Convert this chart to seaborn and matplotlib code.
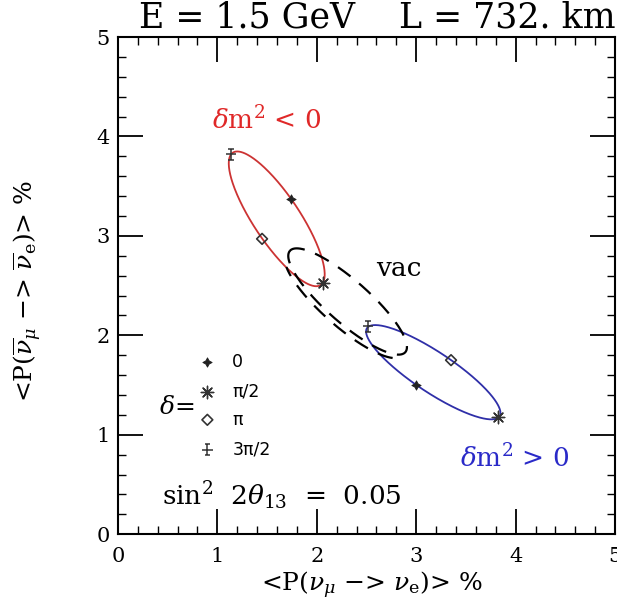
import numpy as np
import pandas as pd
import matplotlib
matplotlib.use("Agg")
import matplotlib.pyplot as plt
import seaborn as sns
from matplotlib.path import Path
from matplotlib.ticker import MultipleLocator

# ---- data ----
# points ordered delta = 0, pi/2, pi, 3pi/2
delta_labels = ["0", "π/2", "π", "3π/2"]
neg_x = [1.74, 2.06, 1.45, 1.14]      # dm^2 < 0  <P(nu_mu -> nu_e)> %
neg_y = [3.37, 2.525, 2.97, 3.82]     # dm^2 < 0  <P(nubar_mu -> nubar_e)> %
pos_x = [3.00, 3.82, 3.35, 2.515]     # dm^2 > 0
pos_y = [1.50, 1.175, 1.75, 2.09]
vac_x = [1.73, 2.45, 2.89, 2.17]      # vacuum curve (unmarked)
vac_y = [2.85, 2.50, 1.83, 2.18]
legend_x = 0.90
legend_y = [1.73, 1.43, 1.15, 0.85]
x_ticks = [0, 1, 2, 3, 4, 5]
y_ticks = [0, 1, 2, 3, 4, 5]

RED = "#cc3333"
BLUE = "#2f2fa8"
TXT_RED = "#e02828"
TXT_BLUE = "#2a2ac8"


def ellipse(xs, ys, t0=0.0, t1=2 * np.pi, n=400):
    """Curve P(delta) = c + a cos(delta) + b sin(delta) through the four delta points."""
    t = np.linspace(t0, t1, n)
    cx, cy = np.mean(xs), np.mean(ys)
    ax_, bx = (xs[0] - xs[2]) / 2, (xs[1] - xs[3]) / 2
    ay, by = (ys[0] - ys[2]) / 2, (ys[1] - ys[3]) / 2
    return pd.DataFrame({"x": cx + ax_ * np.cos(t) + bx * np.sin(t),
                         "y": cy + ay * np.cos(t) + by * np.sin(t),
                         "t": np.arange(n)})


sns.set_style("ticks")
plt.rcParams["font.family"] = ["DejaVu Serif"]
plt.rcParams["mathtext.fontset"] = "dejavuserif"
plt.rcParams["text.color"] = "black"
plt.rcParams["axes.labelcolor"] = "black"
plt.rcParams["xtick.color"] = "black"
plt.rcParams["ytick.color"] = "black"
plt.rcParams["axes.edgecolor"] = "black"

fig = plt.figure(figsize=(6.17, 6.07), dpi=100)
ax = fig.add_axes([0.191, 0.120, 0.806, 0.819])

# ellipses
sns.lineplot(data=ellipse(neg_x, neg_y), x="x", y="y", sort=False, estimator=None,
             color=RED, lw=1.3, ax=ax)
sns.lineplot(data=ellipse(pos_x, pos_y), x="x", y="y", sort=False, estimator=None,
             color=BLUE, lw=1.3, ax=ax)
vac = ellipse(vac_x, vac_y)
sns.lineplot(data=vac, x="x", y="y", sort=False, estimator=None,
             color="black", lw=1.6, ax=ax, linestyle=(0, (7, 5)))
vac2 = ellipse(vac_x, vac_y, 1.12 * np.pi, 1.85 * np.pi, 200)
vac2["x"] = vac2["x"] - 0.035
vac2["y"] = vac2["y"] - 0.035
sns.lineplot(data=vac2, x="x", y="y", sort=False, estimator=None,
             color="black", lw=1.6, ax=ax, linestyle=(0, (7, 5)))

# markers
cross_cap = Path([(0, -1), (0, 1), (-1, 0), (1, 0), (-0.55, 1), (0.55, 1), (-0.55, -1), (0.55, -1)],
                 [Path.MOVETO, Path.LINETO] * 4)
marker_specs = [
    dict(marker=(4, 1, 0), s=45, color="#222222", edgecolor="#222222", linewidth=0.6),
    dict(marker=(8, 2, 0), s=80, color="#333333", linewidth=1.0),
    dict(marker="D", s=30, color="#333333", facecolor="none", edgecolor="#333333", linewidth=1.2),
    dict(marker=cross_cap, s=55, color="#333333", facecolor="none", edgecolor="#333333", linewidth=1.1),
]
for i, spec in enumerate(marker_specs):
    pts = pd.DataFrame({"x": [neg_x[i], pos_x[i], legend_x],
                        "y": [neg_y[i], pos_y[i], legend_y[i]]})
    sns.scatterplot(data=pts, x="x", y="y", ax=ax, legend=False, zorder=5, **spec)
    ax.text(1.15, legend_y[i], delta_labels[i], family="DejaVu Sans", fontsize=12.5,
            ha="left", va="center")

ax.text(0.59, 1.27, r"$\delta$=", fontsize=18, ha="center", va="center")
ax.text(1.50, 4.17, r"$\delta$m$^2$ < 0", color=TXT_RED, fontsize=19, ha="center", va="center")
ax.text(3.99, 0.77, r"$\delta$m$^2$ > 0", color=TXT_BLUE, fontsize=19, ha="center", va="center")
ax.text(2.83, 2.67, "vac", fontsize=19, ha="center", va="center")
ax.text(0.44, 0.29, r"sin$^2$  $2\theta_{13}$  =  0.05", fontsize=19, ha="left", va="baseline")

ax.text(1.0, 1.006, "E = 1.5 GeV    L = 732. km", transform=ax.transAxes,
        fontsize=25, ha="right", va="bottom")

ax.set_xlim(0, 5)
ax.set_ylim(0, 5)
ax.set_xticks(x_ticks)
ax.set_yticks(y_ticks)
ax.xaxis.set_minor_locator(MultipleLocator(0.2))
ax.yaxis.set_minor_locator(MultipleLocator(0.2))
ax.tick_params(which="both", direction="in", top=True, right=True, labelsize=15)
ax.tick_params(which="major", length=18, width=1.3)
ax.tick_params(which="minor", length=6, width=1.0)
ax.tick_params(axis="x", pad=9)
ax.tick_params(axis="y", pad=6)
for sp in ax.spines.values():
    sp.set_linewidth(1.5)
    sp.set_visible(True)

ax.set_xlabel(r"<P($\nu_\mu$ −> $\nu_{\rm e}$)> %", fontsize=18)
ax.set_ylabel(r"<P($\overline{\nu}_\mu$ −> $\overline{\nu}_{\rm e}$)> %", fontsize=18)
ax.xaxis.set_label_coords(0.51, -0.072)
ax.yaxis.set_label_coords(-0.15, 0.49)

fig.savefig("out.png", dpi=100)
